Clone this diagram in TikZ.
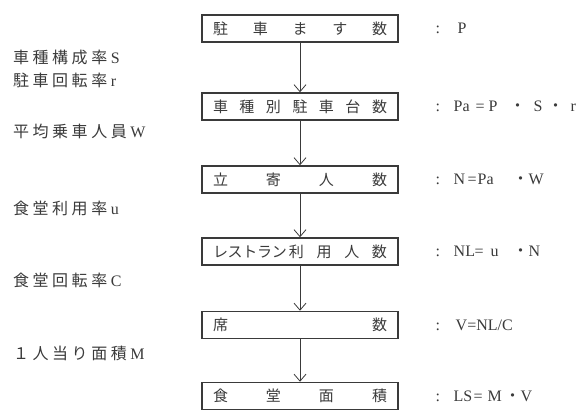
\documentclass[tikz,border=0pt]{standalone}
\usepackage{fontspec}
\setmainfont{Liberation Serif}
\newfontfamily\jp{Noto Sans CJK JP}
\newfontfamily\jpls[LetterSpace=22]{Noto Sans CJK JP}
\newfontfamily\jpnarrow[LetterSpace=-2]{Noto Sans CJK JP}
\usetikzlibrary{arrows.meta}
\definecolor{ink}{HTML}{3A3A3A}
\tikzset{
  box/.style={draw=ink, line width=1.5pt, minimum width=196pt, minimum height=27pt,
    inner sep=0pt, text=ink, font=\jp\fontsize{15}{15}\selectfont},
  flow/.style={draw=ink, line width=0.8pt, -{Straight Barb[length=7pt,width=12pt]}},
  lbl/.style={anchor=west, inner sep=0pt, text=ink, font=\fontsize{16}{16}\selectfont},
  eq/.style={anchor=west, inner sep=0pt, text=ink, font=\fontsize{16}{16}\selectfont}
}
\newcommand\spreadtext[1]{\makebox[174pt]{#1}}
\newcommand\putat[2]{\makebox[0pt][l]{\hspace{#1pt}#2}}
\newcommand\dotat[1]{\makebox[0pt][l]{\hspace{#1pt}\makebox[0pt]{\jp ・}}}
\newcommand\fw[1]{\hspace{3.5pt}\makebox[16pt][l]{#1}}
\begin{document}
\begin{tikzpicture}[x=1pt,y=-1pt]
\useasboundingbox (0,0) rectangle (586,411);
% boxes
\node[box] (b1) at (300,28.5) {\spreadtext{駐\hfill 車\hfill ま\hfill す\hfill 数}};
\node[box] (b2) at (300,106.5) {\spreadtext{車\hfill 種\hfill 別\hfill 駐\hfill 車\hfill 台\hfill 数}};
\node[box] (b3) at (300,179.5) {\spreadtext{立\hfill 寄\hfill 人\hfill 数}};
\node[box] (b4) at (300,251.5) {\spreadtext{{\jpnarrow レストラン}\hspace{2pt}利\hfill 用\hfill 人\hfill 数}};
\node[box] (b5) at (300,325) {\spreadtext{席\hfill 数}};
\node[box] (b6) at (300,396) {\spreadtext{食\hfill 堂\hfill 面\hfill 積}};
% connectors
\draw[flow] (b1) -- (b2);
\draw[flow] (b2) -- (b3);
\draw[flow] (b3) -- (b4);
\draw[flow] (b4) -- (b5);
\draw[flow] (b5) -- (b6);
% left labels
\node[lbl] (l1) at (13,57) {{\jpls 車種構成率}\fw{S}};
\node[lbl] (l2) at (13,80) {{\jpls 駐車回転率}\fw{r}};
\node[lbl] (l3) at (13,131) {{\jpls 平均乗車人員}\fw{W}};
\node[lbl] (l4) at (13,208) {{\jpls 食堂利用率}\fw{u}};
\node[lbl] (l5) at (13,280) {{\jpls 食堂回転率}\fw{C}};
\node[lbl] (l6) at (13,353) {{\jpls １人当り面積}\fw{M}};
% right equations
\node[eq] (e1) at (435,28.5) {\putat{0}{:}\putat{22}{P}\hspace{40pt}};
\node[eq] (e2) at (435,106.5) {\putat{0}{:}\putat{18}{Pa}\putat{40}{=}\putat{53}{P}\dotat{82}\putat{98}{S}\dotat{120}\putat{135}{r}\hspace{145pt}};
\node[eq] (e3) at (435,179.5) {\putat{0}{:}\putat{18}{N}\putat{32}{=}\putat{42}{Pa}\dotat{85}\putat{93}{W}\hspace{108pt}};
\node[eq] (e4) at (435,251.5) {\putat{0}{:}\putat{18}{NL}\putat{39}{=}\putat{55}{u}\dotat{85}\putat{93}{N}\hspace{108pt}};
\node[eq] (e5) at (435,325) {\putat{0}{:}\putat{20}{V=NL/C}\hspace{82pt}};
\node[eq] (e6) at (435,396) {\putat{0}{:}\putat{18}{LS}\putat{38}{=}\putat{52}{M}\dotat{77}\putat{85}{V}\hspace{100pt}};
\end{tikzpicture}
\end{document}
